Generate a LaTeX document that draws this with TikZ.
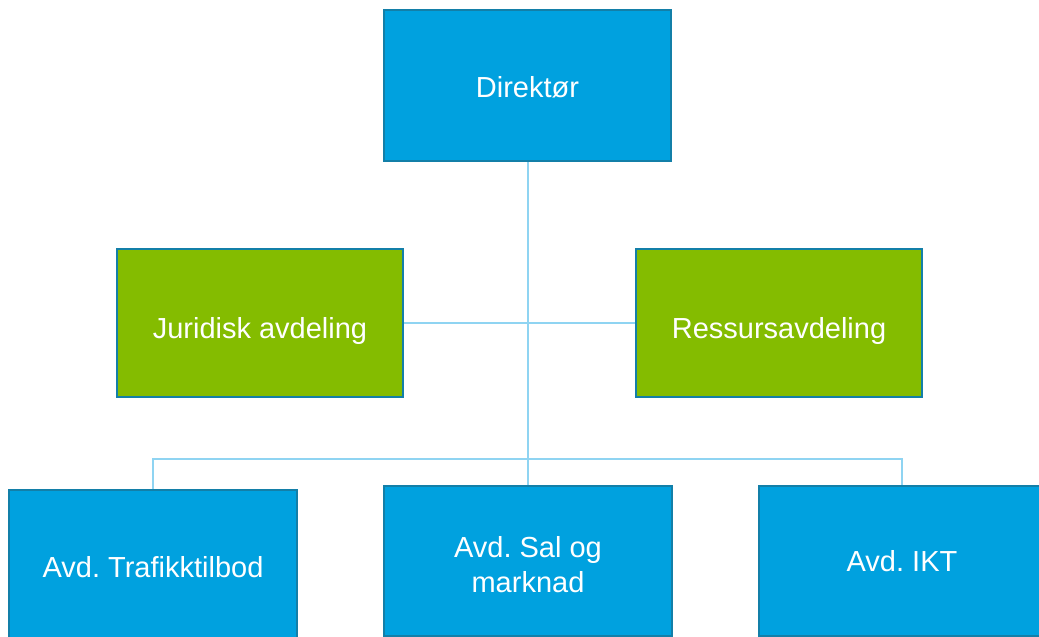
\documentclass[tikz,border=0pt]{standalone}
\usepackage{fontspec}
\setmainfont{Liberation Sans}
\definecolor{boxblue}{HTML}{00A1DF}
\definecolor{boxgreen}{HTML}{84BC00}
\definecolor{edgeblue}{HTML}{137FA8}
\definecolor{connblue}{HTML}{8FD4F2}
\frenchspacing
\begin{document}
\begin{tikzpicture}[x=1pt,y=-1pt,
  orgbox/.style={draw=edgeblue, line width=2pt, text=white, align=center,
    font=\fontsize{29}{35}\selectfont\frenchspacing, inner sep=0pt},
  bluebox/.style={orgbox, fill=boxblue},
  greenbox/.style={orgbox, fill=boxgreen, text height=32pt, text depth=1pt},
  conn/.style={draw=connblue, line width=2pt}]
\useasboundingbox (0,0) rectangle (1039,637);
\node[bluebox, minimum width=287pt, minimum height=151pt, text height=24pt, text depth=0pt] (dir) at (527.5,85.5) {Direktør};
\node[greenbox, minimum width=286pt, minimum height=148pt] (jur) at (260,323) {Juridisk avdeling};
\node[greenbox, minimum width=286pt, minimum height=148pt] (res) at (779,323) {Ressursavdeling};
\node[bluebox, minimum width=288pt, minimum height=154pt] (traf) at (153,567) {Avd. Trafikktilbod};
\node[bluebox, minimum width=288pt, minimum height=150pt, text height=62pt, text depth=0pt] (sal) at (528,561) {Avd. Sal og\\marknad};
\node[bluebox, minimum width=286pt, minimum height=150pt] (ikt) at (902,561) {Avd. IKT};
\coordinate (bus) at (527,459);
\draw[conn] (dir.south) -- (dir.south |- sal.north);
\draw[conn] (jur.east) -- (res.west);
\draw[conn] (traf.north) |- (bus) -| (ikt.north);
\end{tikzpicture}
\end{document}
